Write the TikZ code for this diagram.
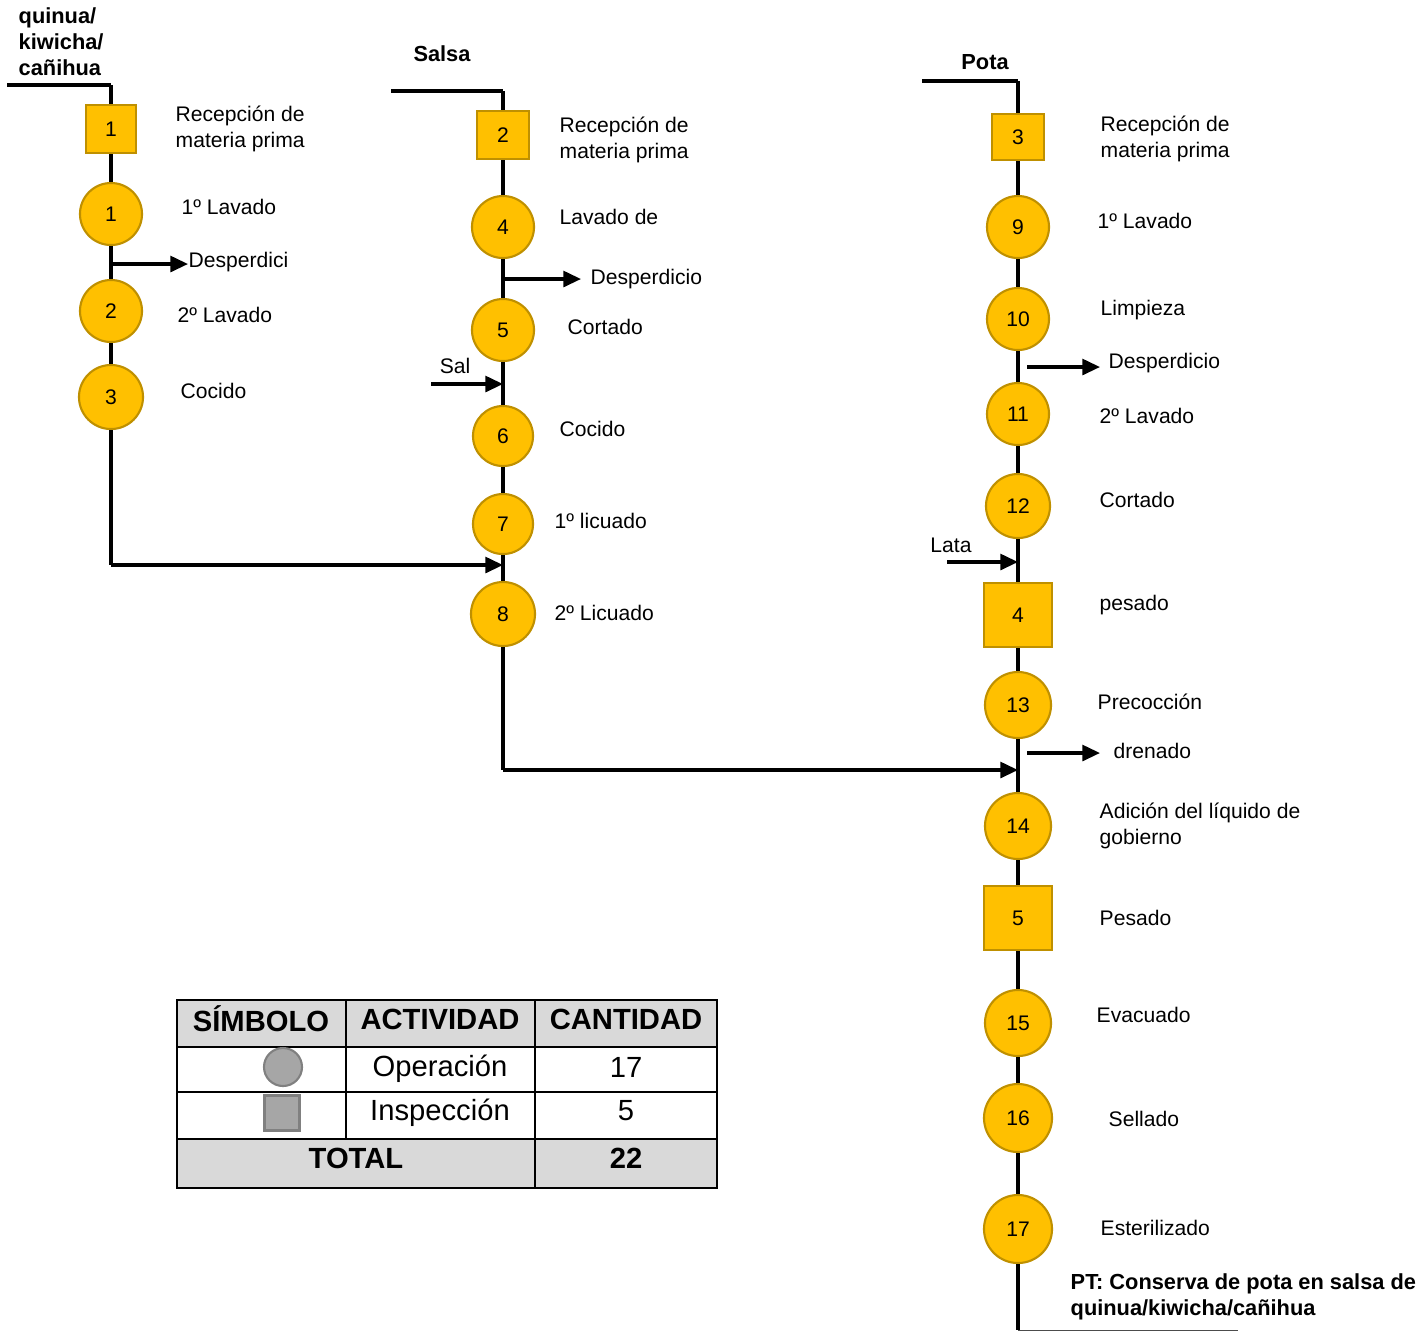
\documentclass[tikz,border=0pt]{standalone}
\usepackage{fontspec}
\setmainfont{Liberation Sans}
\usetikzlibrary{arrows.meta}
\definecolor{oro}{HTML}{FFC000}
\definecolor{orobd}{HTML}{BF9000}
\definecolor{gristab}{HTML}{D9D9D9}
\definecolor{grissym}{HTML}{A6A6A6}
\definecolor{grisbd}{HTML}{808080}

\begin{document}
\begin{tikzpicture}[x=0.01cm,y=-0.01cm,
  op node/.style={circle,draw=orobd,fill=oro,line width=0.6pt,minimum size=0.62cm,inner sep=0pt,font=\fontsize{6}{7}\selectfont},
  insp node/.style={rectangle,draw=orobd,fill=oro,line width=0.6pt,minimum width=0.5cm,minimum height=0.48cm,inner sep=0pt,font=\fontsize{6}{7}\selectfont},
  big insp/.style={insp node,minimum width=0.68cm,minimum height=0.64cm},
  lbl/.style={anchor=west,align=left,inner sep=0pt,font=\fontsize{6}{7.4}\selectfont},
  ttl/.style={anchor=west,align=left,inner sep=0pt,font=\bfseries\fontsize{6.2}{7.4}\selectfont},
  tab/.style={inner sep=0pt,font=\fontsize{8.3}{9}\selectfont},
  tabh/.style={tab,font=\bfseries\fontsize{8.3}{9}\selectfont},
  flow/.style={line width=0.9pt},
  arr/.style={flow,-{Triangle[length=5pt,width=4.5pt]}}]
  \useasboundingbox (0,0) rectangle (1427,1332);

  % quinua / kiwicha / canihua
  \node[ttl] (tq) at (18,42) {quinua/\\kiwicha/\\cañihua};
  \coordinate (q0) at (7,85);
  \coordinate (q1) at (111,85);
  \node[insp node] (i1) at (111,129) {1};
  \node[op node] (o1) at (111,214) {1};
  \node[op node] (o2) at (111,311) {2};
  \node[op node,minimum size=0.64cm] (o3) at (111,397) {3};
  \coordinate (d1) at (111,264);
  \node[lbl] (w1) at (188,262) {Desperdici};
  \coordinate (j1) at (111,565);
  \node[lbl] at (175,129) {Recepción de\\materia prima};
  \node[lbl] at (181,207) {1º Lavado};
  \node[lbl] at (177,315) {2º Lavado};
  \node[lbl] at (180,391) {Cocido};

  % salsa
  \node[ttl,anchor=center] (ts) at (442,54) {Salsa};
  \coordinate (s0) at (391,91);
  \coordinate (s1) at (503,91);
  \node[insp node,minimum width=0.52cm] (i2) at (503,135) {2};
  \node[op node] (o4) at (503,227) {4};
  \node[op node] (o5) at (503,330) {5};
  \node[op node,minimum size=0.6cm] (o6) at (503,436) {6};
  \node[op node,minimum size=0.6cm] (o7) at (503,524) {7};
  \node[op node,minimum size=0.64cm] (o8) at (503,614) {8};
  \coordinate (d2) at (505,279);
  \node[lbl] (w2) at (590,279) {Desperdicio};
  \coordinate (sal0) at (431,384);
  \coordinate (sal1) at (503,384);
  \node[lbl,anchor=center] at (455,366) {Sal};
  \coordinate (j1e) at (503,565);
  \coordinate (j2) at (503,770);
  \node[lbl] at (559,140) {Recepción de\\materia prima};
  \node[lbl] at (559,217) {Lavado de};
  \node[lbl] at (567,327) {Cortado};
  \node[lbl] at (559,429) {Cocido};
  \node[lbl] at (554,521) {1º licuado};
  \node[lbl] at (554,613) {2º Licuado};

  % pota
  \node[ttl,anchor=center] (tp) at (985,62) {Pota};
  \coordinate (p0) at (922,81);
  \coordinate (p1) at (1018,81);
  \node[insp node,minimum width=0.52cm,minimum height=0.46cm] (i3) at (1018,137) {3};
  \node[op node] (o9) at (1018,227) {9};
  \node[op node] (o10) at (1018,319) {10};
  \node[op node] (o11) at (1018,414) {11};
  \node[op node,minimum size=0.64cm] (o12) at (1018,506) {12};
  \node[big insp] (i4) at (1018,615) {4};
  \node[op node,minimum size=0.66cm] (o13) at (1018,705) {13};
  \node[op node,minimum size=0.66cm] (o14) at (1018,826) {14};
  \node[big insp] (i5) at (1018,918) {5};
  \node[op node,minimum size=0.66cm] (o15) at (1018,1023) {15};
  \node[op node,minimum size=0.68cm] (o16) at (1018,1118) {16};
  \node[op node,minimum size=0.68cm] (o17) at (1018,1229) {17};
  \coordinate (d3) at (1027,367);
  \node[lbl] (w3) at (1108,363) {Desperdicio};
  \coordinate (lat0) at (947,562);
  \coordinate (lat1) at (1018,562);
  \node[lbl,anchor=center] at (951,545) {Lata};
  \coordinate (d4) at (1027,753);
  \node[lbl] (w4) at (1113,751) {drenado};
  \coordinate (j2e) at (1018,770);
  \coordinate (e0) at (1018,1330);
  \coordinate (e1) at (1238,1330);
  \node[lbl] at (1100,139) {Recepción de\\materia prima};
  \node[lbl] at (1097,221) {1º Lavado};
  \node[lbl] at (1100,310) {Limpieza};
  \node[lbl] at (1099,416) {2º Lavado};
  \node[lbl] at (1099,500) {Cortado};
  \node[lbl] at (1099,605) {pesado};
  \node[lbl] at (1097,702) {Precocción};
  \node[lbl] at (1099,826) {Adición del líquido de\\gobierno};
  \node[lbl] at (1099,918) {Pesado};
  \node[lbl] at (1096,1015) {Evacuado};
  \node[lbl] at (1108,1119) {Sellado};
  \node[lbl] at (1100,1228) {Esterilizado};
  \node[ttl] at (1070,1297) {PT: Conserva de pota en salsa de\\quinua/kiwicha/cañihua};

 \path[flow]
 (q0) edge (q1)
 (q1) edge (i1)
 (i1) edge (o1)
 (o1) edge (o2)
 (o2) edge (o3)
 (o3) edge (j1)
 (s0) edge (s1)
 (s1) edge (i2)
 (i2) edge (o4)
 (o4) edge (o5)
 (o5) edge (o6)
 (o6) edge (o7)
 (o7) edge (o8)
 (o8) edge (j2)
 (p0) edge (p1)
 (p1) edge (i3)
 (i3) edge (o9)
 (o9) edge (o10)
 (o10) edge (o11)
 (o11) edge (o12)
 (o12) edge (i4)
 (i4) edge (o13)
 (o13) edge (o14)
 (o14) edge (i5)
 (i5) edge (o15)
 (o15) edge (o16)
 (o16) edge (o17)
 (o17) edge (e0);
 \draw[arr] (j1) -- (j1e);
 \draw[arr] (j2) -- (j2e);
 \draw[arr] (d1) -- (d1 -| w1.west);
 \draw[arr] (d2) -- ([xshift=-0.09cm]d2 -| w2.west);
 \draw[arr] (sal0) -- (sal1);
 \draw[arr] (d3) -- ([xshift=-0.08cm]d3 -| w3.west);
 \draw[arr] (lat0) -- (lat1);
 \draw[arr] (d4) -- ([xshift=-0.13cm]d4 -| w4.west);
 \draw[line width=0.3pt,black!70] (e0) -- (e1);

  % tabla
  \fill[gristab] (177,1000) rectangle (717,1047);
  \fill[gristab] (177,1139) rectangle (717,1188);
  \draw[line width=0.6pt] (177,1000) rectangle (717,1188);
  \draw[line width=0.6pt] (177,1047) -- (717,1047) (177,1092) -- (717,1092) (177,1139) -- (717,1139);
  \draw[line width=0.6pt] (346,1000) -- (346,1139) (535,1000) -- (535,1188);
  \node[tabh] at (261,1019) {SÍMBOLO};
  \node[tabh] at (440,1019) {ACTIVIDAD};
  \node[tabh] at (626,1019) {CANTIDAD};
  \node[circle,draw=grisbd,fill=grissym,line width=0.6pt,minimum size=0.38cm,inner sep=0pt] (sym1) at (283,1067) {};
  \node[rectangle,draw=grisbd,fill=grissym,line width=0.6pt,minimum size=0.35cm,inner sep=0pt] (sym2) at (282,1113) {};
  \node[tab] at (440,1069) {Operación};
  \node[tab] at (626,1067) {17};
  \node[tab] at (440,1113) {Inspección};
  \node[tab] at (626,1111) {5};
  \node[tabh] at (356,1158) {TOTAL};
  \node[tabh] at (626,1158) {22};
\end{tikzpicture}
\end{document}
